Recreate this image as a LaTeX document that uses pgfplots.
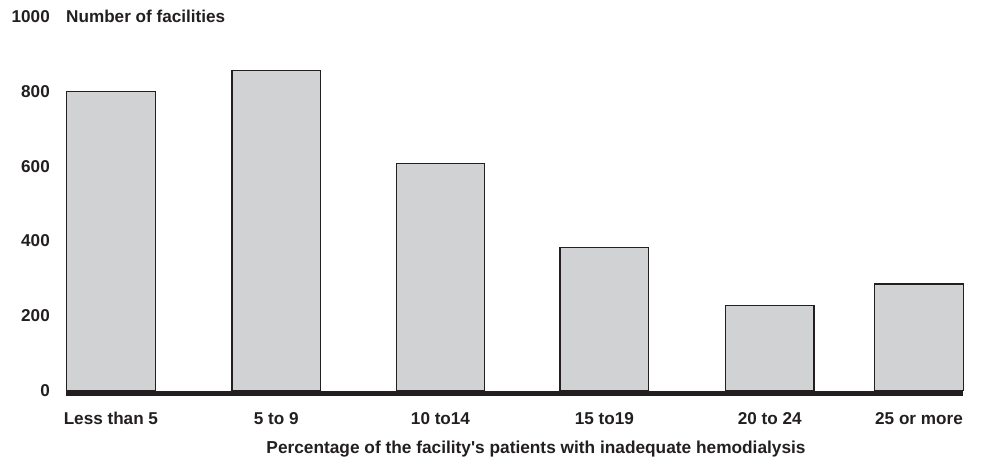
\documentclass[border=0pt]{standalone}
\usepackage{fontspec}
\setmainfont{Liberation Sans}[Ligatures=TeXOff]
\usepackage{pgfplots}
\pgfplotsset{compat=1.18}
\definecolor{barfill}{RGB}{209,210,212}
\definecolor{ink}{RGB}{35,31,32}

\newcommand{\lab}{\fontsize{17.2}{19}\selectfont\bfseries}

\begin{document}
\begin{tikzpicture}[x=1bp,y=1bp]
\path[use as bounding box] (0,0) rectangle (982,458);
\begin{axis}[
    at={(66bp,64.5bp)}, anchor=south west,
    scale only axis, width=897bp, height=376.7bp,
    xmin=66, xmax=963, ymin=-8, ymax=1000,
    axis x line*=bottom, axis y line*=left,
    x axis line style={line width=5bp, draw=ink, -},
    y axis line style={draw=none},
    major tick length=0pt,
    ytick={0,200,400,600,800,1000},
    xtick={110.9,276.2,440.5,604.3,769.7,919.0},
    xticklabels={Less than 5,5 to 9,10 to14,15 to19,20 to 24,25 or more},
    /pgf/number format/assume math mode=true,
    /pgf/number format/set thousands separator={},
    ticklabel style={font=\lab, text=ink},
    yticklabel style={anchor=east, inner sep=0pt, xshift=-16bp},
    xticklabel style={anchor=base, inner sep=0pt, yshift=-30.8bp},
    ybar, bar width=88.5,
    clip=false,
]
\addplot[fill=barfill, draw=ink, line width=1.2bp] coordinates {
    (110.9,800) (276.2,857) (440.5,608) (604.3,383) (769.7,227) (919.0,285)
};
\node[anchor=west, inner sep=0pt, font=\lab, text=ink] at (rel axis cs:0,1) {Number of facilities};
\node[anchor=base, inner sep=0pt, font=\fontsize{17.35}{19}\selectfont\bfseries, text=ink, yshift=-59.8bp]
    at (rel axis cs:0.524,0)
    {Percentage of the facility's patients with inadequate hemodialysis};
\end{axis}
\end{tikzpicture}
\end{document}
